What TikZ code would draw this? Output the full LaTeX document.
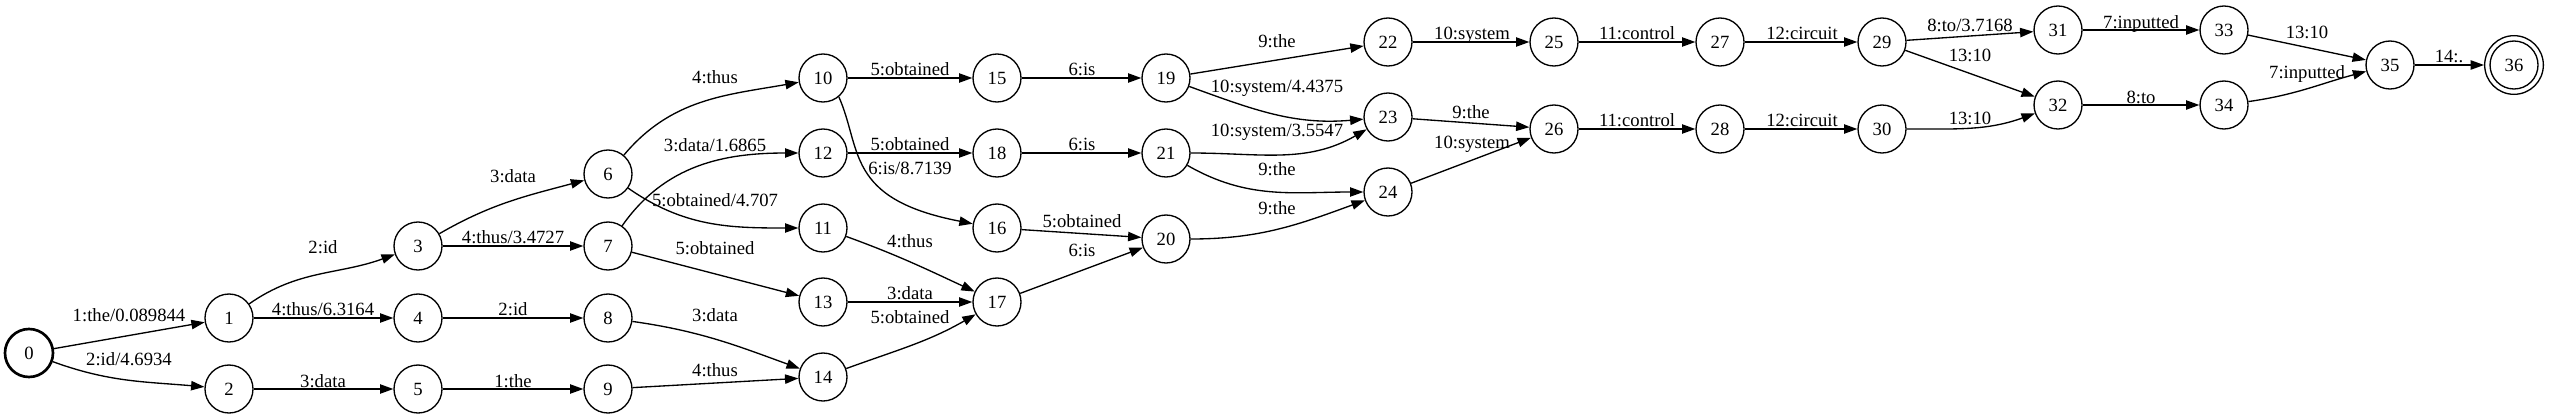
\documentclass[tikz,border=0pt]{standalone}
\usepackage{fontspec}
\setmainfont{Liberation Serif}
\usetikzlibrary{arrows.meta}
\begin{document}
\begin{tikzpicture}[x=0.75pt,y=0.75pt,
  st/.style={circle,draw,line width=1pt,minimum size=36pt,inner sep=0pt,font=\fontsize{14pt}{16pt}\selectfont},
  lab/.style={inner sep=0pt,text height=9.5pt,text depth=0pt,font=\fontsize{14pt}{16pt}\selectfont},
  edge/.style={draw,line width=1pt,-{Triangle[length=10pt,width=7pt]}}]
\useasboundingbox (0,0) rectangle (2550,419);
\node[st,line width=2pt] (n0) at (29,66) {0};
\node[st] (n1) at (229,101) {1};
\node[st] (n2) at (229,30) {2};
\node[st] (n3) at (418,173) {3};
\node[st] (n4) at (418,101) {4};
\node[st] (n5) at (418,30) {5};
\node[st] (n6) at (608,245) {6};
\node[st] (n7) at (608,173) {7};
\node[st] (n8) at (608,101) {8};
\node[st] (n9) at (608,30) {9};
\node[st] (n10) at (823,341) {10};
\node[st] (n12) at (823,266) {12};
\node[st] (n11) at (823,191) {11};
\node[st] (n13) at (823,117) {13};
\node[st] (n14) at (823,42) {14};
\node[st] (n15) at (997,341) {15};
\node[st] (n18) at (997,266) {18};
\node[st] (n16) at (997,191) {16};
\node[st] (n17) at (997,117) {17};
\node[st] (n19) at (1166,341) {19};
\node[st] (n21) at (1166,266) {21};
\node[st] (n20) at (1166,180) {20};
\node[st] (n22) at (1388,377) {22};
\node[st] (n23) at (1388,302) {23};
\node[st] (n24) at (1388,227) {24};
\node[st] (n25) at (1554,377) {25};
\node[st] (n26) at (1554,290) {26};
\node[st] (n27) at (1720,377) {27};
\node[st] (n28) at (1720,290) {28};
\node[st] (n29) at (1882,377) {29};
\node[st] (n30) at (1882,290) {30};
\node[st] (n31) at (2058,389) {31};
\node[st] (n32) at (2058,314) {32};
\node[st] (n33) at (2224,389) {33};
\node[st] (n34) at (2224,314) {34};
\node[st] (n35) at (2390,354) {35};
\node[st,minimum size=44pt] (n36) at (2514,354) {36};
\draw[line width=1pt] (n36.center) circle[radius=18pt];
% edges
\path[edge] (n0) -- (n1);
\path[edge] (n0) to[out=-20,in=175] (n2);
\path[edge] (n1) to[out=35,in=200] (n3);
\path[edge] (n1) -- (n4);
\path[edge] (n2) -- (n5);
\path[edge] (n3) to[out=30,in=195] (n6);
\path[edge] (n3) -- (n7);
\path[edge] (n4) -- (n8);
\path[edge] (n5) -- (n9);
\path[edge] (n6) to[out=50,in=190] (n10);
\path[edge] (n7) to[out=55,in=180] (n12);
\path[edge] (n6) to[out=-35,in=180] (n11);
\path[edge] (n7) -- (n13);
\path[edge] (n8) to[out=-8,in=160] (n14);
\path[edge] (n9) -- (n14);
\path[edge] (n10) -- (n15);
\path[edge] (n15) -- (n19);
\path[edge] (n12) -- (n18);
\path[edge] (n18) -- (n21);
\path[edge] (n10.-50) .. controls (862,270) and (845,220) .. (n16.170);
\path[edge] (n16) -- (n20);
\path[edge] (n17) -- (n20);
\path[edge] (n11) to[out=-20,in=155] (n17);
\path[edge] (n13) -- (n17);
\path[edge] (n14) to[out=20,in=210] (n17);
\path[edge] (n19) -- (n22);
\path[edge] (n19) to[out=-20,in=185] (n23);
\path[edge] (n21) to[out=0,in=210] (n23);
\path[edge] (n21) to[out=-30,in=180] (n24);
\path[edge] (n20) to[out=0,in=200] (n24);
\path[edge] (n22) -- (n25);
\path[edge] (n25) -- (n27);
\path[edge] (n23) -- (n26);
\path[edge] (n24) -- (n26);
\path[edge] (n26) -- (n28);
\path[edge] (n27) -- (n29);
\path[edge] (n28) -- (n30);
\path[edge] (n29) -- (n31);
\path[edge] (n29) -- (n32);
\path[edge] (n30) to[out=0,in=200] (n32);
\path[edge] (n31) -- (n33);
\path[edge] (n32) -- (n34);
\path[edge] (n33) -- (n35);
\path[edge] (n34) to[out=8,in=195] (n35);
\path[edge] (n35) -- (n36);
% labels
\node[lab] at (129,104) {1:the/0.089844};
\node[lab] at (129,60) {2:id/4.6934};
\node[lab] at (323,172) {2:id};
\node[lab] at (323,110) {4:thus/6.3164};
\node[lab] at (323,38) {3:data};
\node[lab] at (513,243) {3:data};
\node[lab] at (513,182) {4:thus/3.4727};
\node[lab] at (513,110) {2:id};
\node[lab] at (513,38) {1:the};
\node[lab] at (715,342) {4:thus};
\node[lab] at (715,274) {3:data/1.6865};
\node[lab] at (715,219) {5:obtained/4.707};
\node[lab] at (715,171) {5:obtained};
\node[lab] at (715,104) {3:data};
\node[lab] at (715,49) {4:thus};
\node[lab] at (910,350) {5:obtained};
\node[lab] at (1082,350) {6:is};
\node[lab] at (910,275) {5:obtained};
\node[lab] at (1082,275) {6:is};
\node[lab] at (910,251) {6:is/8.7139};
\node[lab] at (1082,198) {5:obtained};
\node[lab] at (1082,169) {6:is};
\node[lab] at (910,178) {4:thus};
\node[lab] at (910,126) {3:data};
\node[lab] at (910,102) {5:obtained};
\node[lab] at (1277,378) {9:the};
\node[lab] at (1277,333) {10:system/4.4375};
\node[lab] at (1277,289) {10:system/3.5547};
\node[lab] at (1277,250) {9:the};
\node[lab] at (1277,211) {9:the};
\node[lab] at (1472,386) {10:system};
\node[lab] at (1637,386) {11:control};
\node[lab] at (1471,307) {9:the};
\node[lab] at (1472,277) {10:system};
\node[lab] at (1637,299) {11:control};
\node[lab] at (1802,386) {12:circuit};
\node[lab] at (1802,299) {12:circuit};
\node[lab] at (1970,394) {8:to/3.7168};
\node[lab] at (1970,364) {13:10};
\node[lab] at (1970,301) {13:10};
\node[lab] at (2141,397) {7:inputted};
\node[lab] at (2141,322) {8:to};
\node[lab] at (2307,387) {13:10};
\node[lab] at (2307,347) {7:inputted};
\node[lab] at (2449,363) {14:.};
\end{tikzpicture}
\end{document}
